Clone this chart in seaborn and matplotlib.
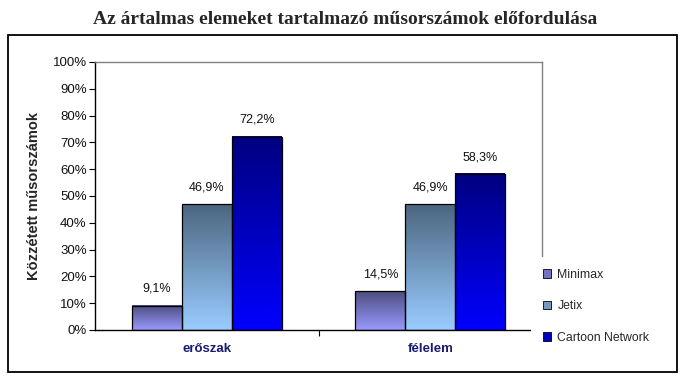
import numpy as np
import pandas as pd
import seaborn as sns
import matplotlib
matplotlib.use('Agg')
from matplotlib import pyplot as plt
from matplotlib.colors import to_rgb
from matplotlib.patches import Patch, Rectangle

categories = ['erőszak', 'félelem']
channels = ['Minimax', 'Jetix', 'Cartoon Network']
minimax = [9.1, 14.5]
jetix = [46.9, 46.9]
cartoon = [72.2, 58.3]
y_ticks = [0, 10, 20, 30, 40, 50, 60, 70, 80, 90, 100]

BASE_COLORS = {'Minimax': '#9999ff', 'Jetix': '#99ccff', 'Cartoon Network': '#0000ff'}
TOP_COLORS = {'Minimax': '#4d4d80', 'Jetix': '#4d6680', 'Cartoon Network': '#000080'}
LEGEND_COLORS = {'Minimax': '#7373bf', 'Jetix': '#7399bf', 'Cartoon Network': '#0000c0'}

sns.set_theme(style='white')
plt.rcParams['font.family'] = ['Liberation Sans', 'DejaVu Sans']


def gradient_fill(ax, bar, bottom_color, top_color):
    x0, w, h = bar.get_x(), bar.get_width(), bar.get_height()
    c0, c1 = np.array(to_rgb(bottom_color)), np.array(to_rgb(top_color))
    t = np.linspace(0, 1, 256)[:, None]
    img = (c0 * (1 - t) + c1 * t)[:, None, :]
    ax.imshow(img, extent=[x0, x0 + w, 0, h], origin='lower', aspect='auto',
              interpolation='bilinear', zorder=2)
    bar.set_facecolor('none')
    bar.set_edgecolor('black')
    bar.set_linewidth(0.9)
    bar.set_zorder(3)


df = pd.DataFrame({
    'category': categories * 3,
    'channel': [c for c in channels for _ in categories],
    'value': minimax + jetix + cartoon,
})

fig = plt.figure(figsize=(6.88, 3.86), dpi=100)
ax = fig.add_axes([95 / 688, 1 - 330 / 386, (542 - 95) / 688, (330 - 62) / 386])

sns.barplot(data=df, x='category', y='value', hue='channel', hue_order=channels,
            palette=BASE_COLORS, width=0.67, gap=0, legend=False, ax=ax)

for container, ch in zip(ax.containers, channels):
    for bar in container:
        gradient_fill(ax, bar, BASE_COLORS[ch], TOP_COLORS[ch])
        v = bar.get_height()
        ax.annotate(f'{v:.1f}%'.replace('.', ','),
                    xy=(bar.get_x() + bar.get_width() / 2, v),
                    xytext=(0, 12), textcoords='offset points',
                    ha='center', va='center', fontsize=9, color='#111111')

ax.set_xlim(-0.5, 1.5)
ax.set_ylim(0, 100)
ax.set_yticks(y_ticks)
ax.set_yticklabels([f'{t}%' for t in y_ticks])
ax.set_xticks([0, 1])
ax.set_xticklabels(categories, fontweight='bold', color='#1a1a70', fontsize=9.5)
ax.set_xticks([0.5], minor=True)
ax.tick_params(axis='x', which='major', length=0, pad=9)
ax.tick_params(axis='x', which='minor', direction='out', length=4, width=0.8, color='black', bottom=True)
ax.tick_params(axis='y', direction='out', length=4, width=0.8, color='black', left=True,
               labelsize=9.5, labelcolor='#111111', pad=2)
ax.set_xlabel('')
ax.set_ylabel('Közzétett műsorszámok', fontweight='bold', fontsize=10.5, labelpad=8)

for side in ['left', 'bottom']:
    ax.spines[side].set_color('black')
    ax.spines[side].set_linewidth(1.0)
for side in ['top', 'right']:
    ax.spines[side].set_color('#808080')
    ax.spines[side].set_linewidth(1.0)

handles = [Patch(facecolor=LEGEND_COLORS[ch], edgecolor='black', linewidth=0.6) for ch in channels]
leg = fig.legend(handles, channels, loc='upper left', bbox_to_anchor=(531 / 688, 1 - 257 / 386),
                 bbox_transform=fig.transFigure, frameon=True, fontsize=8.8,
                 handlelength=0.7, handleheight=0.7, handletextpad=0.5,
                 labelspacing=1.6, borderpad=0.95, borderaxespad=0)
leg.get_frame().set_facecolor('white')
leg.get_frame().set_edgecolor('none')
leg.get_frame().set_alpha(1)

fig.patches.append(Rectangle((8 / 688, 1 - 372 / 386), (677 - 8) / 688, (372 - 35) / 386,
                             transform=fig.transFigure, fill=False, edgecolor='black', linewidth=1.3))

fig.text(345 / 688, 1 - 19 / 386, 'Az ártalmas elemeket tartalmazó műsorszámok előfordulása',
         ha='center', va='center', fontsize=14, fontweight='bold', family='Liberation Serif')

fig.savefig('out.png', dpi=100)
